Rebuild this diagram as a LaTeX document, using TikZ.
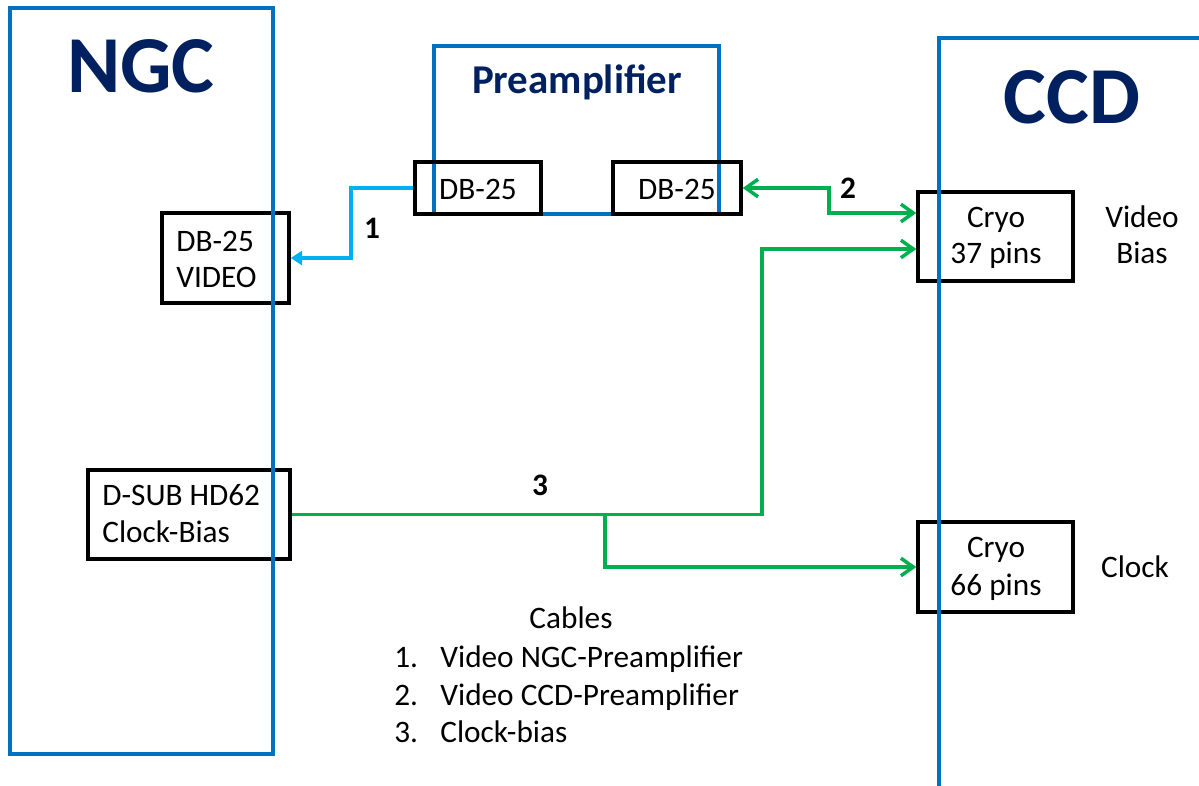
\documentclass[tikz,border=0pt]{standalone}
\usepackage{fontspec}
\setmainfont{Carlito}
\usetikzlibrary{arrows.meta,calc}
\definecolor{frameblue}{HTML}{0070C0}
\definecolor{titlenavy}{HTML}{002060}
\definecolor{cableblue}{HTML}{00B0F0}
\definecolor{cablegreen}{HTML}{00B050}
\begin{document}
\begin{tikzpicture}[x=0.02cm,y=-0.02cm,
  >={Straight Barb[length=7pt,width=10pt]},
  frame/.style={draw=frameblue,line width=2.4pt},
  conbox/.style={draw=black,line width=2pt,rectangle,inner sep=0pt},
  txt/.style={inner sep=0pt,font=\fontsize{17.8}{21}\selectfont},
  cnum/.style={inner sep=0pt,font=\bfseries\fontsize{17.8}{21}\selectfont},
  bigtitle/.style={inner sep=0pt,text=titlenavy,font=\bfseries\fontsize{46}{50}\selectfont},
  subtitle/.style={inner sep=0pt,text=titlenavy,font=\bfseries\fontsize{23.3}{28}\selectfont},
  bluecable/.style={draw=cableblue,line width=2pt,-{Triangle[length=6.5pt,width=8pt]}},
  greencable/.style={draw=cablegreen,line width=2pt}
]
\useasboundingbox (0,0) rectangle (1199,785);
\clip (0,0) rectangle (1199,785);

% preamplifier frame (behind connector boxes)
\draw[frame] (434,46) rectangle (719,214);

% connector boxes
\node[conbox,minimum width=2.52cm,minimum height=1.04cm] (dbl) at (478,188) {};
\node[conbox,minimum width=2.56cm,minimum height=1.04cm] (dbr) at (677,188) {};
\node[conbox,minimum width=2.54cm,minimum height=1.8cm] (dbv) at (225.5,258) {};
\node[conbox,minimum width=4.04cm,minimum height=1.78cm] (dsub) at (189,514.5) {};
\node[conbox,minimum width=3.1cm,minimum height=1.78cm] (c37) at (995.5,236.5) {};
\node[conbox,minimum width=3.1cm,minimum height=1.8cm] (c66) at (995.5,567) {};

% NGC and CCD frames
\draw[frame] (10,8) rectangle (273,754);
\draw[frame] (1215,38) -- (939,38) -- (939,800);

% titles
\node[bigtitle,anchor=base] (ngc) at (141,92) {NGC};
\node[bigtitle,anchor=base] (ccd) at (1072,123) {CCD};
\node[subtitle,anchor=base] (pre) at (577,93) {Preamplifier};

% box texts
\node[txt,anchor=base] (tdbl) at (478,199) {DB-25};
\node[txt,anchor=base] (tdbr) at (677,199) {DB-25};
\node[txt,anchor=base west] (tdbv1) at (176,251) {DB-25};
\node[txt,anchor=base west] (tdbv2) at (176,287) {VIDEO};
\node[txt,anchor=base west] (tds1) at (102,505) {D-SUB HD62};
\node[txt,anchor=base west] (tds2) at (102,542) {Clock-Bias};
\node[txt,anchor=base] (tc371) at (996,227) {Cryo};
\node[txt,anchor=base] (tc372) at (996,263) {37 pins};
\node[txt,anchor=base] (tc661) at (996,557) {Cryo};
\node[txt,anchor=base] (tc662) at (996,595) {66 pins};
\node[txt,anchor=base] (tvb1) at (1142,227) {Video};
\node[txt,anchor=base] (tvb2) at (1142,263) {Bias};
\node[txt,anchor=base] (tclk) at (1135,577) {Clock};

% cables
\coordinate (k1) at (351,0);
\draw[bluecable] (dbl.west) -- (dbl.west -| k1) |- (dbv.east);
\coordinate (k2) at (829,0);
\coordinate (c37a) at ($(c37.west)+(0,-23.5)$);
\draw[greencable,<->] (dbr.east) -- (dbr.east -| k2) |- (c37a);
\coordinate (k3) at (762,0);
\coordinate (c37b) at ($(c37.west)+(0,12.5)$);
\draw[greencable,->] (dsub.east) -- (dsub.east -| k3) |- (c37b);
\coordinate (k4) at (605,0);
\draw[greencable,->] (dsub.east -| k4) |- (c66.west);

% cable numbers
\node[cnum,anchor=base] (l1) at (372,238) {1};
\node[cnum,anchor=base] (l2) at (848,198) {2};
\node[cnum,anchor=base] (l3) at (540,495) {3};

% legend
\node[txt,anchor=base] (cab) at (571,628) {Cables};
\node[txt,anchor=base west] (n1) at (394,667) {1.};
\node[txt,anchor=base west] (i1) at (440,667) {Video NGC-Preamplifier};
\node[txt,anchor=base west] (n2) at (394,705) {2.};
\node[txt,anchor=base west] (i2) at (440,705) {Video CCD-Preamplifier};
\node[txt,anchor=base west] (n3) at (394,742) {3.};
\node[txt,anchor=base west] (i3) at (440,742) {Clock-bias};
\end{tikzpicture}
\end{document}
